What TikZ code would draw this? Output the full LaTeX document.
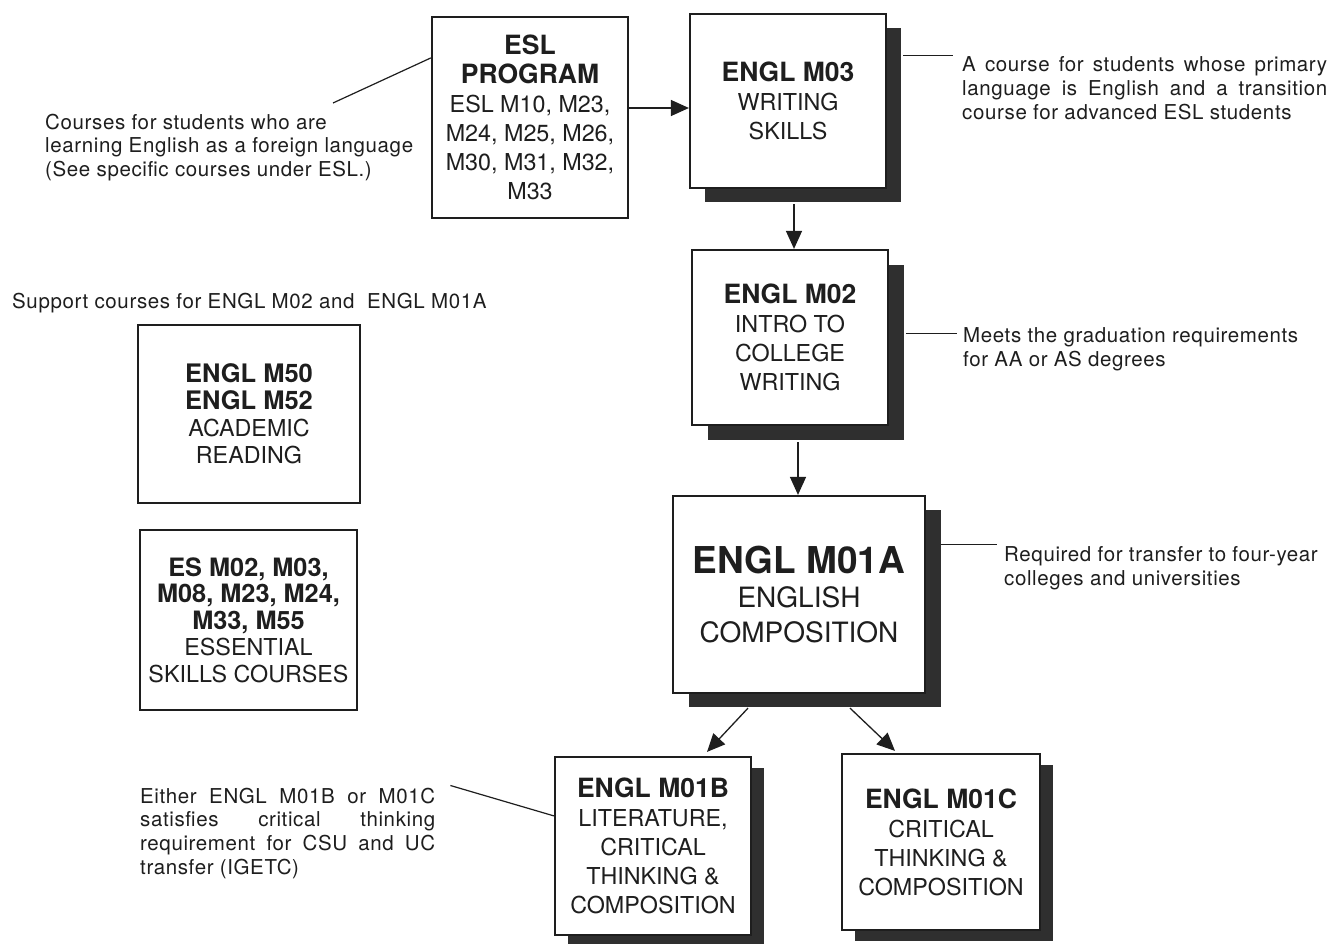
\documentclass[tikz,border=0pt]{standalone}
\usepackage{fontspec}
\setmainfont{TeX Gyre Heros}
\newfontfamily\notefont[LetterSpace=3]{TeX Gyre Heros}
\usetikzlibrary{arrows.meta,shadows}
\definecolor{shadowgray}{HTML}{2F2F2F}
\definecolor{inkgray}{HTML}{1E1E1E}
\newcommand\boxtitle[1]{{\bfseries\fontsize{26.5}{29}\selectfont #1}}
\begin{document}
\begin{tikzpicture}[x=1pt,y=-1pt,
  box/.style={draw=inkgray, line width=2.2pt, fill=white, inner sep=0pt,
    align=center, text=inkgray, font=\fontsize{23.3}{29}\selectfont},
  shbox/.style 2 args={box, drop shadow={shadow xshift=#1, shadow yshift=#2,
    fill=shadowgray, opacity=1}},
  note/.style={inner sep=0pt, align=left, text=inkgray,
    font=\notefont\fontsize{20.5}{23.8}\selectfont},
  arr/.style={draw=inkgray, line width=1.3pt, -{Triangle[length=18pt,width=16pt]}},
  conn/.style={draw=inkgray, line width=1.2pt}]
\fill[white] (0,0) rectangle (1333,944);
\useasboundingbox (0,0) rectangle (1333,944);

% course boxes
\node[box, minimum width=196pt, minimum height=201pt] (esl) at (530,117.5)
  {\boxtitle{ESL}\\ \boxtitle{PROGRAM}\\ ESL M10, M23,\\ M24, M25, M26,\\ M30, M31, M32,\\ M33};
\node[shbox={15pt}{-14pt}, minimum width=196pt, minimum height=174pt] (m03) at (788,101)
  {\boxtitle{ENGL M03}\\ WRITING\\ SKILLS};
\node[shbox={16pt}{-15pt}, minimum width=196pt, minimum height=175pt] (m02) at (790,337.5)
  {\boxtitle{ENGL M02}\\ INTRO TO\\ COLLEGE\\ WRITING};
\node[shbox={16pt}{-14pt}, minimum width=252pt, minimum height=197pt,
  font=\fontsize{28}{34.5}\selectfont] (m01a) at (799,594.5)
  {{\bfseries\fontsize{37}{34.5}\selectfont ENGL M01A}\\ ENGLISH\\ COMPOSITION};
\node[shbox={13pt}{-11pt}, minimum width=196pt, minimum height=178pt] (m01b) at (653,846)
  {\boxtitle{ENGL M01B}\\ LITERATURE,\\ CRITICAL\\ THINKING \&\\ COMPOSITION};
\node[shbox={13pt}{-11pt}, minimum width=198pt, minimum height=176pt] (m01c) at (941,842)
  {\boxtitle{ENGL M01C}\\ CRITICAL\\ THINKING \&\\ COMPOSITION};
\node[box, minimum width=222pt, minimum height=178pt, font=\fontsize{23.3}{27}\selectfont] (m50) at (249,414)
  {{\bfseries\fontsize{25.5}{27}\selectfont ENGL M50}\\ {\bfseries\fontsize{25.5}{27}\selectfont ENGL M52}\\ ACADEMIC\\ READING};
\node[box, minimum width=217pt, minimum height=180pt, font=\fontsize{23.3}{26.5}\selectfont] (es) at (248.5,620)
  {{\bfseries\fontsize{25.3}{26.5}\selectfont ES M02, M03,}\\
   {\bfseries\fontsize{25.3}{26.5}\selectfont M08, M23, M24,}\\
   {\bfseries\fontsize{25.3}{26.5}\selectfont M33, M55}\\ ESSENTIAL\\ SKILLS COURSES};

% notes
\node[note, anchor=north west] (eslnote) at (45,113.5)
  {Courses for students who are\\ learning English as a foreign language\\ (See specific courses under ESL.)};
\node[note, anchor=base west] (support) at (12,308)
  {Support courses for ENGL M02 and~ ENGL M01A};
\node[note, anchor=north west] (m03note) at (962,56.5)
  {\makebox[365pt][s]{A course for students whose primary}\\
   \makebox[365pt][s]{language is English and a transition}\\
   course for advanced ESL students};
\node[note, anchor=north west] (m02note) at (963,327.5)
  {Meets the graduation requirements\\ for AA or AS degrees};
\node[note, anchor=north west] (m01anote) at (1004,546.5)
  {Required for transfer to four-year\\ colleges and universities};
\node[note, anchor=north west] (m01bnote) at (140,787.5)
  {\makebox[295pt][s]{Either ENGL M01B or M01C}\\
   \makebox[295pt][s]{satisfies critical thinking}\\
   \makebox[295pt][s]{requirement for CSU and UC}\\
   transfer (IGETC)};

% flow arrows
\coordinate (m3a) at ([yshift=-7pt]m03.west);
\draw[arr] (esl.east |- m3a) -- (m3a);
\draw[arr] ([xshift=6pt,yshift=-15pt]m03.south) -- ([xshift=4pt]m02.north);
\draw[arr] ([xshift=8pt,yshift=-16pt]m02.south) -- ([xshift=-1pt]m01a.north);
\draw[arr] ([xshift=-51pt,yshift=-14pt]m01a.south) -- ([xshift=54pt,yshift=4pt]m01b.north);
\draw[arr] ([xshift=51pt,yshift=-14pt]m01a.south) -- ([xshift=-46pt,yshift=2pt]m01c.north);

% note connectors
\coordinate (eslc) at (333,103);
\draw[conn] (eslc) -- ([yshift=-42pt]esl.north west);
\coordinate (m3c) at ([xshift=16pt,yshift=-43pt]m03.north east);
\draw[conn, shorten >=9pt] (m3c) -- (m3c -| m03note.west);
\coordinate (m2c) at ([xshift=17pt,yshift=4pt]m02.east);
\draw[conn, shorten >=6pt] (m2c) -- (m2c -| m02note.west);
\coordinate (m1c) at ([xshift=15pt,yshift=50pt]m01a.east);
\draw[conn, shorten >=7pt] (m1c) -- (m1c -| m01anote.west);
\draw[conn] ([xshift=15pt,yshift=2pt]m01bnote.north east) -- ([yshift=-60pt]m01b.north west);
\end{tikzpicture}
\end{document}
